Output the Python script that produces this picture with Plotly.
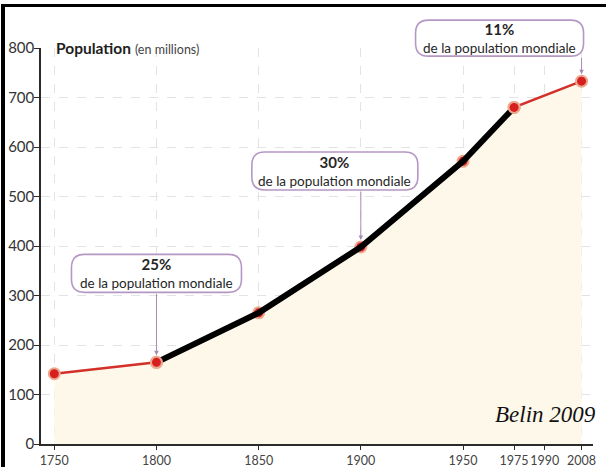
import plotly.graph_objects as go

# ---------------- data ----------------
years = [1750, 1800, 1850, 1900, 1950, 1975, 2008]
population = [142, 165, 265, 398, 571, 680, 733]   # millions
tick_years = [1750, 1800, 1850, 1900, 1950, 1975, 1990, 2008]
tick_pop = [0, 100, 200, 300, 400, 500, 600, 700, 800]
highlight_from, highlight_to = 1800, 1975
callout_years = [1800, 1900, 2008]
callout_pct = ["25%", "30%", "11%"]
callout_sub = "de la population mondiale"
y_title_main = "Population"
y_title_sub = "(en millions)"
credit = "Belin 2009"

# ---------------- layout constants ----------------
W, H = 606, 467
ML, MR, MT, MB = 41, 13, 48, 23
PW, PH = W - ML - MR, H - MT - MB
X_RANGE = [1743.5, 2013.6]
Y_RANGE = [0, 800]


def px_x(p):
    return (p - ML) / PW


def px_y(p):
    return (H - MB - p) / PH


def frac_x(v):
    return (v - X_RANGE[0]) / (X_RANGE[1] - X_RANGE[0])


def frac_y(v):
    return (v - Y_RANGE[0]) / (Y_RANGE[1] - Y_RANGE[0])


FONT = "Lato, 'Open Sans', sans-serif"
RED = "#d3302a"
PURPLE = "#b597c4"

i0 = years.index(highlight_from)
i1 = years.index(highlight_to) + 1

fig = go.Figure()

fig.add_trace(go.Scatter(
    x=years, y=population, mode="lines+markers",
    line=dict(color=RED, width=2.5),
    fill="tozeroy", fillcolor="#fdf8e9",
    marker=dict(size=11, color="#d81f1f", line=dict(color="#eba88f", width=2)),
    hoverinfo="x+y", showlegend=False,
))
fig.add_trace(go.Scatter(
    x=years[i0:i1], y=population[i0:i1], mode="lines",
    line=dict(color="#000000", width=6),
    hoverinfo="skip", showlegend=False,
))
fig.add_trace(go.Scatter(
    x=[years[i0], years[i1 - 1]], y=[population[i0], population[i1 - 1]],
    mode="markers",
    marker=dict(size=11, color="#d81f1f", line=dict(color="#eba88f", width=2)),
    hoverinfo="skip", showlegend=False,
))

# callout geometry (pixels relative to pointed point, y up): dx, dy, w, h
callout_geom = [(0, 89, 170, 38), (-26, 76, 166, 38), (-82, 43, 168, 36)]


def rounded(cx, cy, w, h, r):
    l, rr = cx - w / 2, cx + w / 2
    t, b = cy + h / 2, cy - h / 2
    return (f"M {l + r} {t} L {rr - r} {t} Q {rr} {t} {rr} {t - r} "
            f"L {rr} {b + r} Q {rr} {b} {rr - r} {b} "
            f"L {l + r} {b} Q {l} {b} {l} {b + r} "
            f"L {l} {t - r} Q {l} {t} {l + r} {t} Z")


shapes = []
annotations = []
for yr, pct, (dx, dy, w, h) in zip(callout_years, callout_pct, callout_geom):
    val = population[years.index(yr)]
    shapes.append(dict(
        type="path", xref="paper", yref="paper",
        xsizemode="pixel", ysizemode="pixel",
        xanchor=frac_x(yr), yanchor=frac_y(val),
        path=rounded(dx, dy, w, h, 13),
        line=dict(color=PURPLE, width=1.6), fillcolor="white", layer="above",
    ))
    annotations.append(dict(
        x=yr, y=val, xref="x", yref="y", text="",
        showarrow=True, ax=0, ay=-(dy - h / 2), axref="pixel", ayref="pixel",
        arrowhead=2, arrowsize=0.9, arrowwidth=1, arrowcolor="#a68bb6", standoff=7,
    ))
    annotations.append(dict(
        x=yr, y=val, xref="x", yref="y", xshift=dx, yshift=dy,
        text=f"<b><span style='font-size:15px'>{pct}</span></b><br>{callout_sub}",
        showarrow=False,
        font=dict(family=FONT, size=13.5, color="#262626"),
        xanchor="center", yanchor="middle",
    ))

annotations.append(dict(
    xref="paper", yref="paper", x=px_x(54), y=1.0, xanchor="left", yanchor="middle",
    text=f"<b>{y_title_main}</b> <span style='font-size:12.5px;color:#444'>{y_title_sub}</span>",
    showarrow=False, font=dict(family=FONT, size=15.5, color="#1e1e1e"),
))
annotations.append(dict(
    xref="paper", yref="paper", x=px_x(598), y=px_y(414), xanchor="right", yanchor="middle",
    text=f"<i>{credit}</i>", showarrow=False,
    font=dict(family="'Liberation Serif', 'DejaVu Serif', serif", size=23, color="#111"),
))

# black frame (left and top)
shapes.append(dict(type="rect", xref="paper", yref="paper",
                   x0=px_x(1), x1=px_x(5), y0=px_y(H), y1=px_y(4),
                   fillcolor="black", line=dict(width=0), layer="above"))
shapes.append(dict(type="rect", xref="paper", yref="paper",
                   x0=px_x(1), x1=px_x(W), y0=px_y(7), y1=px_y(4),
                   fillcolor="black", line=dict(width=0), layer="above"))

fig.update_layout(
    width=W, height=H,
    margin=dict(l=ML, r=MR, t=MT, b=MB, pad=0, autoexpand=False),
    paper_bgcolor="white", plot_bgcolor="white",
    font=dict(family=FONT, color="#333"),
    shapes=shapes, annotations=annotations,
    showlegend=False,
)
fig.update_xaxes(
    range=X_RANGE, tickvals=tick_years, ticktext=[str(t) for t in tick_years],
    automargin=False, tickangle=0,
    showline=True, linecolor="#2b2b2b", linewidth=1.5,
    ticks="outside", ticklen=4, tickcolor="#2b2b2b", tickwidth=1,
    showgrid=True, gridcolor="#e3e3e3", griddash="dash", gridwidth=1,
    zeroline=False, tickfont=dict(family=FONT, size=12.5, color="#444"),
)
fig.update_yaxes(
    range=Y_RANGE, tickvals=tick_pop, automargin=False,
    showline=True, linecolor="#2b2b2b", linewidth=1.5,
    ticks="outside", ticklen=5, tickcolor="#2b2b2b", tickwidth=1,
    ticklabelstandoff=-3,
    showgrid=True, gridcolor="#e3e3e3", griddash="dash", gridwidth=1,
    zeroline=False, tickfont=dict(family=FONT, size=15, color="#333"),
)

fig.write_html("out.html", config={"displayModeBar": False},
               post_script="document.body.style.margin='0px';")
